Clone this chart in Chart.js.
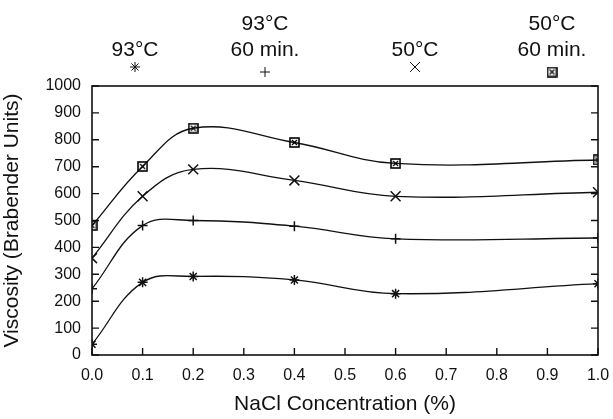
<!DOCTYPE html>
<html>
<head>
  <meta charset="UTF-8">
  <title>Viscosity vs NaCl</title>
  <script src="https://cdn.jsdelivr.net/npm/chart.js@4/dist/chart.umd.min.js"></script>
  <style>
    html, body { margin: 0; padding: 0; background: #fff; }
    #wrap { width: 613px; height: 419px; position: relative; }
  </style>
</head>
<body>
<div id="wrap"><canvas id="myChart" width="613" height="419"></canvas></div>
<script>
  // NaCl concentration (%) where viscosity was measured
  var nacl = [0.0, 0.1, 0.2, 0.4, 0.6, 1.0];
  // viscosity, Brabender units
  var v93 = [40, 270, 292, 279, 228, 265];
  var v93_60 = [246, 481, 500, 479, 432, 435];
  var v50 = [360, 590, 690, 649, 590, 605];
  var v50_60 = [481, 701, 843, 790, 712, 725];
  var xTicks = [0, 0.1, 0.2, 0.3, 0.4, 0.5, 0.6, 0.7, 0.8, 0.9, 1.0];
  var yTicks = [0, 100, 200, 300, 400, 500, 600, 700, 800, 900, 1000];

  var FONT = "'Liberation Sans', Arial, sans-serif";

  // square with an x inside, for the 50C 60 min. series
  function boxX(size) {
    var c = document.createElement("canvas");
    c.width = c.height = size;
    var g = c.getContext("2d");
    g.strokeStyle = "#000";
    g.lineWidth = 1.6;
    g.strokeRect(1, 1, size - 2, size - 2);
    g.lineWidth = 1.2;
    g.beginPath();
    g.moveTo(3, 3); g.lineTo(size - 3, size - 3);
    g.moveTo(size - 3, 3); g.lineTo(3, size - 3);
    g.stroke();
    return c;
  }
  var boxImg = boxX(11);

  function pts(ys) {
    return nacl.map(function (x, i) { return { x: x, y: ys[i] }; });
  }

  function ds(label, ys, style, r) {
    return {
      label: label,
      data: pts(ys),
      borderColor: "#111",
      backgroundColor: "#111",
      borderWidth: 1.3,
      pointStyle: style,
      pointRadius: r,
      pointBorderWidth: 1.5,
      tension: 0.4
    };
  }

  // inward tick marks on left, right and bottom
  var tickMarks = {
    id: "tickMarks",
    afterDraw: function (chart) {
      var ctx = chart.ctx, a = chart.chartArea;
      var xs = chart.scales.x, ys = chart.scales.y;
      ctx.save();
      ctx.strokeStyle = "#111";
      ctx.lineWidth = 1.4;
      ctx.beginPath();
      xTicks.forEach(function (t) {
        var px = xs.getPixelForValue(t);
        ctx.moveTo(px, a.bottom); ctx.lineTo(px, a.bottom - 7);
      });
      yTicks.forEach(function (t) {
        var py = ys.getPixelForValue(t);
        ctx.moveTo(a.left, py); ctx.lineTo(a.left + 7, py);
        ctx.moveTo(a.right, py); ctx.lineTo(a.right - 7, py);
      });
      ctx.stroke();
      ctx.lineWidth = 1.6;
      ctx.strokeRect(a.left, a.top, a.right - a.left, a.bottom - a.top);
      ctx.restore();
    }
  };

  // legend printed above the plot
  var topKey = {
    id: "topKey",
    afterDraw: function (chart) {
      var ctx = chart.ctx;
      ctx.save();
      ctx.fillStyle = "#111";
      ctx.strokeStyle = "#111";
      ctx.textAlign = "center";
      ctx.textBaseline = "alphabetic";
      ctx.font = "21px " + FONT;
      var items = [
        { x: 135, lines: ["93°C"], sym: "star", r: 5 },
        { x: 265, lines: ["93°C", "60 min."], sym: "cross", r: 5 },
        { x: 415, lines: ["50°C"], sym: "crossRot", r: 7 },
        { x: 552, lines: ["50°C", "60 min."], sym: boxImg, r: 5 }
      ];
      items.forEach(function (it) {
        var n = it.lines.length;
        it.lines.forEach(function (s, i) {
          ctx.fillText(s, it.x, 56 - (n - 1 - i) * 26);
        });
        var sy = n > 1 ? 72 : 67;
        Chart.helpers.drawPoint(ctx, {
          pointStyle: it.sym, radius: it.r, rotation: 0, borderWidth: 1.4
        }, it.x, sy);
      });
      ctx.restore();
    }
  };

  new Chart(document.getElementById("myChart"), {
    type: "line",
    data: {
      datasets: [
        ds("93°C", v93, "star", 5),
        ds("93°C 60 min.", v93_60, "cross", 5),
        ds("50°C", v50, "crossRot", 7),
        ds("50°C 60 min.", v50_60, boxImg, 6)
      ]
    },
    options: {
      responsive: false,
      animation: false,
      layout: { padding: { top: 86, right: 15, left: 0, bottom: 0 } },
      plugins: { legend: { display: false }, tooltip: { enabled: false } },
      scales: {
        x: {
          type: "linear", min: 0, max: 1,
          afterBuildTicks: function (s) { s.ticks = xTicks.map(function (v) { return { value: v }; }); },
          afterFit: function (s) { s.height = 64; },
          grid: { display: false },
          border: { display: false },
          ticks: {
            color: "#111", padding: 3,
            font: { family: FONT, size: 16 },
            maxRotation: 0,
            callback: function (v) { return v.toFixed(1); }
          },
          title: {
            display: true, text: "NaCl Concentration (%)", color: "#111",
            font: { family: FONT, size: 21 }, padding: { top: 12, bottom: 2 }
          }
        },
        y: {
          min: 0, max: 1000,
          afterBuildTicks: function (s) { s.ticks = yTicks.map(function (v) { return { value: v }; }); },
          afterFit: function (s) { s.width = 92; },
          grid: { display: false },
          border: { display: false },
          ticks: {
            color: "#111", padding: 3,
            font: { family: FONT, size: 16 },
            callback: function (v) { return String(v); }
          },
          title: {
            display: true, text: "Viscosity (Brabender Units)", color: "#111",
            font: { family: FONT, size: 21 }, padding: { top: 0, bottom: 4 }
          }
        }
      }
    },
    plugins: [tickMarks, topKey]
  });
</script>
</body>
</html>
